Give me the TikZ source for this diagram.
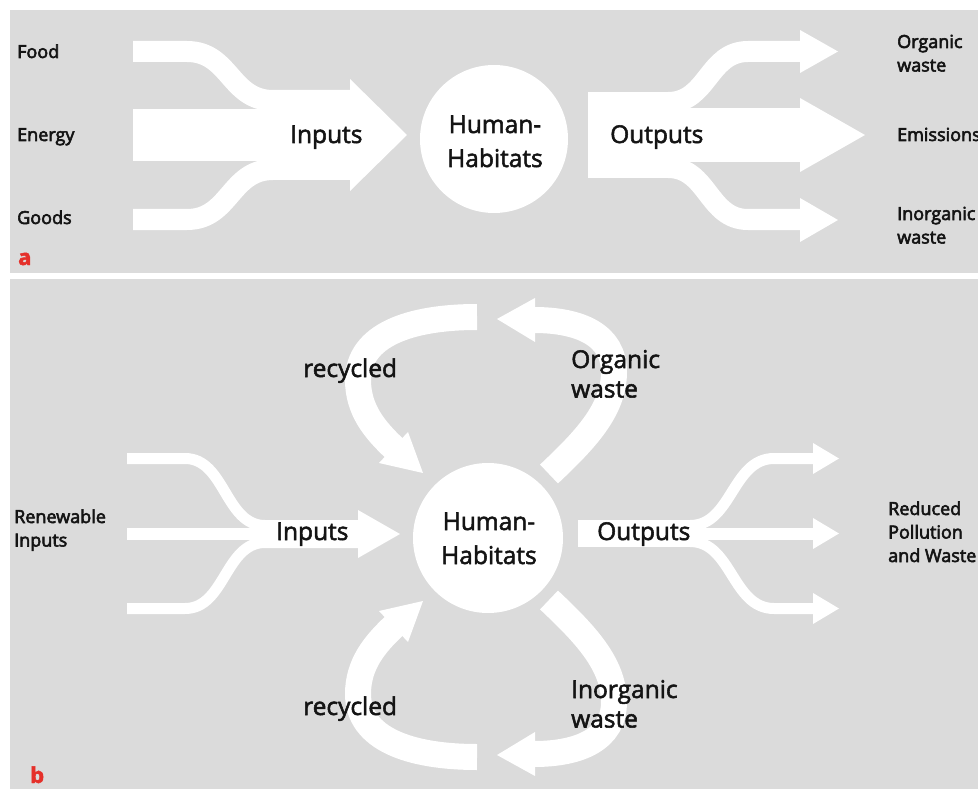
\documentclass[tikz,border=0pt]{standalone}
\usepackage{fontspec}
\setmainfont{Open Sans}[FakeBold=2.2]
\newfontfamily\lblfont{Open Sans}[FakeBold=3.2]
\definecolor{panel}{HTML}{DBDBDB}
\definecolor{ink}{HTML}{141414}
\definecolor{tag}{HTML}{E5302A}
% rows stacked with the first baseline as the box baseline
\newcommand{\rowsL}[1]{\begin{tabular}[t]{@{}l@{}}#1\end{tabular}}
\newcommand{\rowsC}[1]{\begin{tabular}[t]{@{}c@{}}#1\end{tabular}}
\begin{document}
\begin{tikzpicture}[x=1pt,y=-1pt,
  band/.style={draw=white, line width=#1, line cap=butt},
  tipfill/.style={fill=white, draw=none},
  hub/.style={circle, fill=white, draw=none, inner sep=0pt, minimum size=#1},
  big/.style={font=\fontsize{24.5}{34}\selectfont, text=ink, inner sep=0pt},
  bigloose/.style={font=\fontsize{24.5}{29.5}\selectfont, text=ink, inner sep=0pt},
  small/.style={font=\lblfont\fontsize{18}{23.5}\selectfont, text=ink, inner sep=0pt},
  tagletter/.style={font=\bfseries\fontsize{22}{22}\selectfont, text=tag, inner sep=0pt}
]
\useasboundingbox (0,0) rectangle (978,789);

% ---------- panel backgrounds ----------
\fill[panel] (10,10) rectangle (978,273);
\fill[panel] (10,279) rectangle (978,789);

% ================= panel a =================
% three input streams merging into one arrow
\draw[band=21] (133,51.5) -- (187,51.5)
  .. controls (230,51.5) and (230,100.5) .. (273,100.5) -- (351,100.5);
\fill[white] (133,109) rectangle (351,161);
\draw[band=21] (133,219.5) -- (187,219.5)
  .. controls (230,219.5) and (230,169.5) .. (273,169.5) -- (351,169.5);
\fill[tipfill] (350,79) -- (407,135) -- (350,191) -- cycle;

\node[hub=148pt] (habA) at (494,139) {};

% output arrow splitting into three
\fill[white] (588,92) rectangle (680,178);
\fill[white] (675,108) rectangle (801,162);
\fill[tipfill] (800,98) -- (865,135) -- (800,172) -- cycle;
\draw[band=21] (668,102.5) .. controls (708,102.5) and (708,51.5) .. (748,51.5) -- (801,51.5);
\fill[tipfill] (800,30) -- (838,51.5) -- (800,73) -- cycle;
\draw[band=21] (668,167.5) .. controls (708,167.5) and (708,219.5) .. (748,219.5) -- (801,219.5);
\fill[tipfill] (800,198) -- (838,220) -- (800,242) -- cycle;

% labels
\node[small, anchor=base west] (food) at (17,58) {Food};
\node[small, anchor=base west] (energy) at (17,141) {Energy};
\node[small, anchor=base west] (goods) at (17,224) {Goods};
\node[big, anchor=base west] (inA) at (290,143) {Inputs};
\node[big, anchor=base] (habAtxt) at (495,133) {\rowsC{Human-\\Habitats}};
\node[big, anchor=base west] (outA) at (610,143) {Outputs};
\node[small, anchor=base west] (orgA) at (897,48) {\rowsL{Organic\\waste}};
\node[small, anchor=base west] (emis) at (897,141) {Emissions};
\node[small, anchor=base west] (inorgA) at (897,220) {\rowsL{Inorganic\\waste}};
\node[tagletter, anchor=base west] (tagA) at (18,265) {a};

% ================= panel b =================
% thin input streams
\draw[band=11] (127,458.5) -- (185,458.5)
  .. controls (225,458.5) and (225,525.5) .. (265,525.5) -- (359,525.5);
\draw[band=12] (127,533.5) -- (359,533.5);
\draw[band=11] (127,608.5) -- (185,608.5)
  .. controls (225,608.5) and (225,542.5) .. (265,542.5) -- (359,542.5);
\fill[tipfill] (358,510) -- (400,534) -- (358,558) -- cycle;

\node[hub=150pt] (habB) at (488,538) {};

% thin output streams
\fill[white] (578,520) rectangle (700,547);
\draw[band=12] (695,533.5) -- (814,533.5);
\fill[tipfill] (813,518) -- (839,533.5) -- (813,549) -- cycle;
\draw[band=11] (690,525.5) .. controls (732,525.5) and (732,458.5) .. (774,458.5) -- (814,458.5);
\fill[tipfill] (813,443) -- (839,458.5) -- (813,474) -- cycle;
\draw[band=11] (690,541.5) .. controls (732,541.5) and (732,608.5) .. (774,608.5) -- (814,608.5);
\fill[tipfill] (813,593) -- (839,608.5) -- (813,624) -- cycle;

% upper loop: organic waste out, recycled back in
\draw[band=26] (549,474) .. controls (585,440) and (614,410) .. (614,372)
  .. controls (614,335) and (580,320) .. (534,320);
\fill[tipfill] (535,298) -- (497,319) -- (535,342) -- cycle;
\draw[band=26] (477,317) .. controls (410,317) and (358,335) .. (358,380)
  .. controls (358,410) and (375,430) .. (394,448);
\fill[tipfill] (379,463) -- (423,473) -- (408,432) -- cycle;

% lower loop: inorganic waste out, recycled back in
\draw[band=26] (549,600) .. controls (585,634) and (614,664) .. (614,702)
  .. controls (614,739) and (580,754) .. (534,754);
\fill[tipfill] (535,732) -- (497,755) -- (535,776) -- cycle;
\draw[band=26] (477,757) .. controls (410,757) and (358,739) .. (358,694)
  .. controls (358,664) and (375,644) .. (394,626);
\fill[tipfill] (379,611) -- (423,601) -- (408,642) -- cycle;

% labels
\node[small, anchor=base west] (renew) at (14,523) {\rowsL{Renewable\\Inputs}};
\node[big, anchor=base west] (inB) at (276,540) {Inputs};
\node[big, anchor=base] (habBtxt) at (489,530) {\rowsC{Human-\\Habitats}};
\node[big, anchor=base west] (outB) at (597,540) {Outputs};
\node[small, anchor=base west] (reduced) at (888,515) {\rowsL{Reduced\\Pollution\\and Waste}};
\node[big, anchor=base west] (recTop) at (303,377) {recycled};
\node[big, anchor=base west] (recBot) at (303,715) {recycled};
\node[bigloose, anchor=base west] (orgB) at (571,368) {\rowsL{Organic\\waste}};
\node[bigloose, anchor=base west] (inorgB) at (571,698) {\rowsL{Inorganic\\waste}};
\node[tagletter, anchor=base west] (tagB) at (30,783) {b};
\end{tikzpicture}
\end{document}
